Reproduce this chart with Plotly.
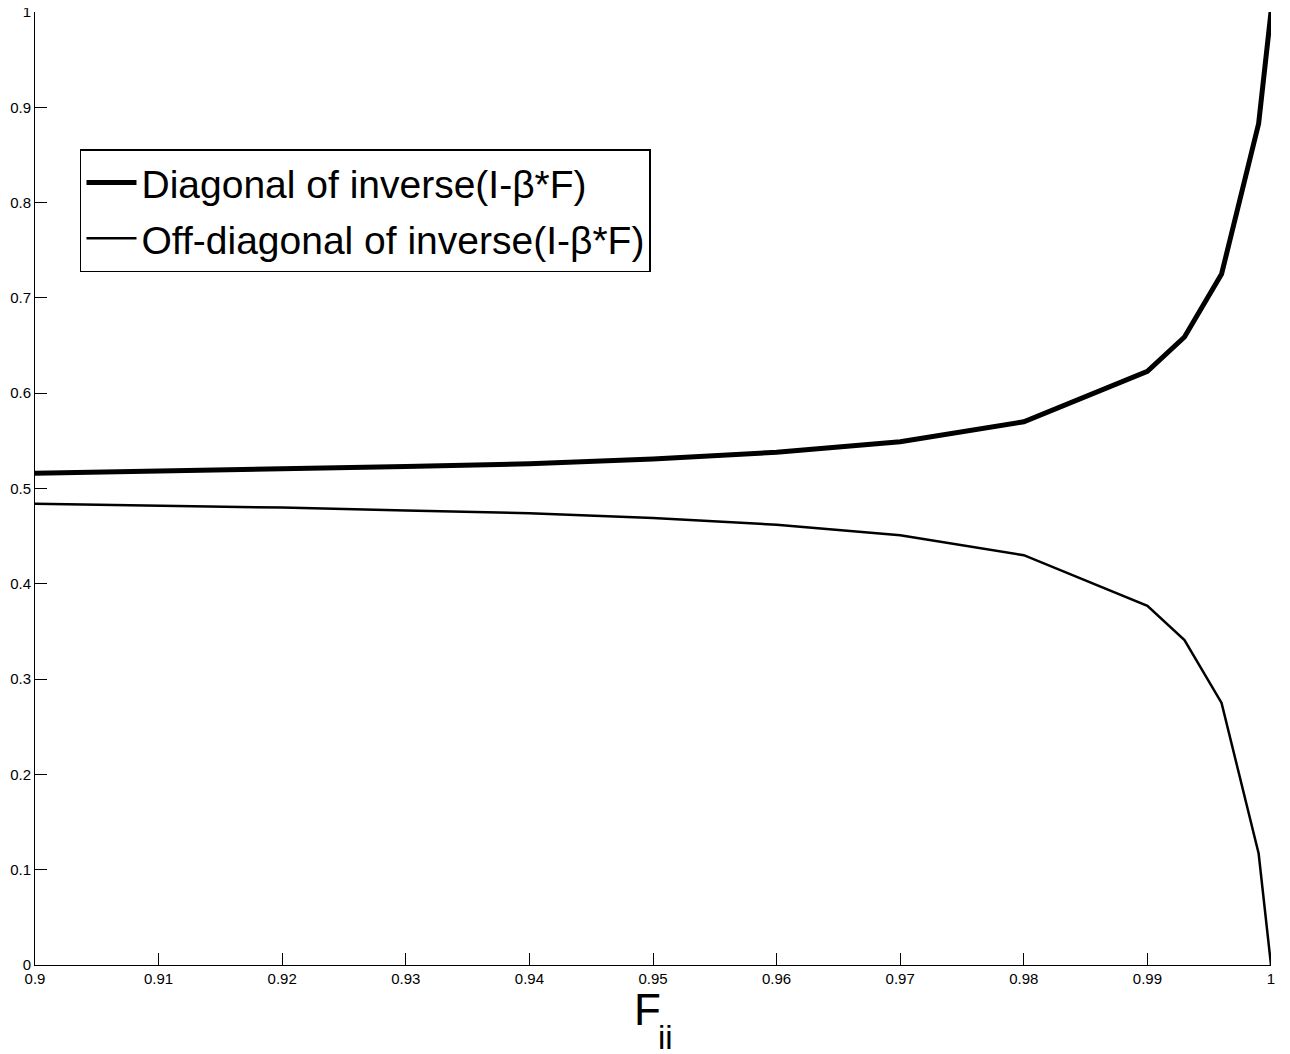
import plotly.graph_objects as go

# Data
f_ii = [0.90, 0.91, 0.92, 0.93, 0.94, 0.95, 0.96, 0.97, 0.98, 0.99, 0.993, 0.996, 0.999, 1.0]
diagonal = [0.516, 0.518, 0.520, 0.523, 0.526, 0.531, 0.538, 0.549, 0.570, 0.623, 0.659, 0.725, 0.883, 1.0]
off_diagonal = [0.484, 0.482, 0.480, 0.477, 0.474, 0.469, 0.462, 0.451, 0.430, 0.377, 0.341, 0.275, 0.117, 0.0]

x_tickvals = [0.90, 0.91, 0.92, 0.93, 0.94, 0.95, 0.96, 0.97, 0.98, 0.99, 1.0]
x_ticktext = ["0.9", "0.91", "0.92", "0.93", "0.94", "0.95", "0.96", "0.97", "0.98", "0.99", "1"]
y_tickvals = [0, 0.1, 0.2, 0.3, 0.4, 0.5, 0.6, 0.7, 0.8, 0.9, 1.0]
y_ticktext = ["0", "0.1", "0.2", "0.3", "0.4", "0.5", "0.6", "0.7", "0.8", "0.9", "1"]
x_title_main = "F"
x_title_sub = "ii"

FONT = "Liberation Sans, Arial, Helvetica, sans-serif"

fig = go.Figure()
fig.add_trace(go.Scatter(
    x=f_ii, y=diagonal, mode="lines",
    name="Diagonal of inverse(I-\u03b2*F)",
    line=dict(color="black", width=5),
    legendgroup="a",
))
fig.add_trace(go.Scatter(
    x=f_ii, y=off_diagonal, mode="lines",
    name="Off-diagonal of inverse(I-\u03b2*F)",
    line=dict(color="black", width=2.5),
    legendgroup="b",
))

axis_common = dict(
    showgrid=False, zeroline=False,
    showline=True, linecolor="black", linewidth=1,
    ticks="inside", ticklen=12, tickcolor="black", tickwidth=1,
    tickfont=dict(family=FONT, size=15, color="black"),
    mirror=False, automargin=False, ticklabeloverflow="allow",
)

# page body has an 8px margin in the browser: compensate in figure size/margins
fig.update_layout(
    width=1282, height=1046,
    margin=dict(l=27, r=19, t=4, b=89),
    paper_bgcolor="white", plot_bgcolor="white",
    font=dict(family=FONT, color="black"),
    showlegend=True,
    legend=dict(
        x=0.0364, y=0.856, xanchor="left", yanchor="top",
        bgcolor="white", bordercolor="black", borderwidth=1.5,
        font=dict(family=FONT, size=39, color="black"),
        traceorder="grouped", tracegroupgap=2,
        itemwidth=50,
    ),
    xaxis=dict(
        range=[0.9, 1.0], tickvals=x_tickvals, ticktext=x_ticktext,
        **axis_common,
    ),
    yaxis=dict(
        range=[0, 1.0], tickvals=y_tickvals, ticktext=y_ticktext,
        **axis_common,
    ),
    annotations=[
        dict(
            text=x_title_main, xref="paper", yref="paper",
            x=0.483, y=-0.019, xanchor="left", yanchor="top",
            showarrow=False,
            font=dict(family=FONT, size=44, color="black"),
        ),
        dict(
            text=x_title_sub, xref="paper", yref="paper",
            x=0.5024, y=-0.0546, xanchor="left", yanchor="top",
            showarrow=False,
            font=dict(family=FONT, size=33, color="black"),
        ),
    ],
)

fig.write_html("out.html")
